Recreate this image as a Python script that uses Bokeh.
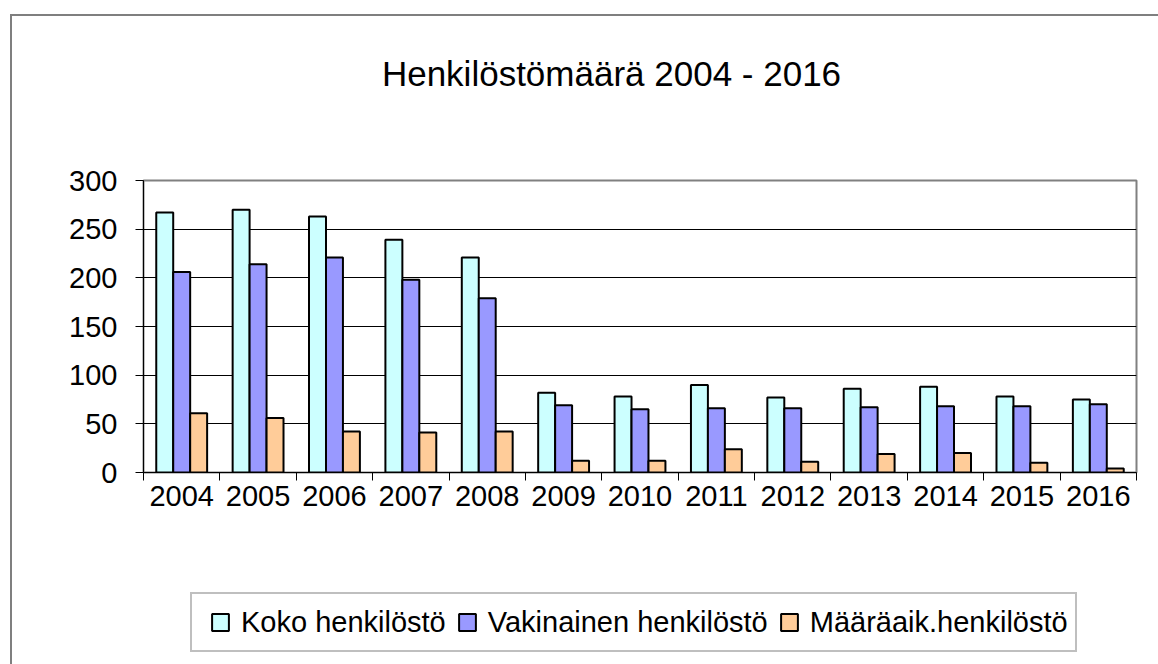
from bokeh.plotting import figure
from bokeh.layouts import column
from bokeh.models import Range1d, FixedTicker, Legend, LegendItem, ColumnDataSource
from bokeh.core.properties import value
from bokeh.transform import dodge
from bokeh.embed import file_html
from bokeh.resources import INLINE

# ---- data ----
years = [2004, 2005, 2006, 2007, 2008, 2009, 2010, 2011, 2012, 2013, 2014, 2015, 2016]
koko = [267, 270, 263, 239, 221, 82, 78, 90, 77, 86, 88, 78, 75]
vakinainen = [206, 214, 221, 198, 179, 69, 65, 66, 66, 67, 68, 68, 70]
maaraaik = [61, 56, 42, 41, 42, 12, 12, 24, 11, 19, 20, 10, 4]
series_names = ["Koko henkilöstö", "Vakinainen henkilöstö", "Määräaik.henkilöstö"]
series_colors = ["#CCFFFF", "#9999FF", "#FFCC99"]
y_ticks = [0, 50, 100, 150, 200, 250, 300]
title_text = "Henkilöstömäärä 2004 - 2016"

FONT = "Liberation Sans"
W = 1146
NAN = float("nan")


def strip(height, xr, yr):
    f = figure(width=W, height=height, x_range=xr, y_range=yr,
               output_backend="svg", toolbar_location=None,
               x_axis_location=None, y_axis_location=None,
               min_border_left=0, min_border_right=0, min_border_top=0, min_border_bottom=0)
    f.outline_line_color = None
    f.grid.grid_line_color = None
    f.background_fill_color = "white"
    f.border_fill_color = "white"
    return f


# ---- title strip ----
p0 = strip(100, Range1d(143, 1136), Range1d(0, 100))
p0.text(x=[611], y=[43], text=[title_text], text_font=value(FONT), text_font_size="35px",
        text_align="center", text_baseline="alphabetic", text_color="black")

# ---- main chart ----
source = ColumnDataSource(data=dict(year=years, koko=koko, vak=vakinainen, maa=maaraaik))

p = figure(
    width=W, height=460,
    x_range=Range1d(years[0] - 0.5, years[-1] + 0.5),
    y_range=Range1d(y_ticks[0], y_ticks[-1]),
    output_backend="svg", toolbar_location=None,
    min_border_left=131, min_border_top=64, min_border_right=22, min_border_bottom=104,
)
p.outline_line_color = "#808080"
p.outline_line_width = 2
p.background_fill_color = "white"
p.border_fill_color = "white"

w = 0.222
cols = ["koko", "vak", "maa"]
offsets = [-w, 0.0, w]
for col, off, color in zip(cols, offsets, series_colors):
    p.vbar(x=dodge("year", off), top=col, width=w, bottom=0, source=source,
           fill_color=color, line_color="black", line_width=2)

p.yaxis.ticker = FixedTicker(ticks=y_ticks)
p.yaxis.major_label_text_font = FONT
p.yaxis.major_label_text_font_size = "29px"
p.yaxis.major_label_text_color = "black"
p.yaxis.major_tick_in = 0
p.yaxis.major_tick_out = 8
p.yaxis.minor_tick_line_color = None
p.yaxis.major_label_standoff = 18
p.yaxis.axis_line_color = "black"
p.yaxis.major_tick_line_color = "black"

p.xaxis.ticker = FixedTicker(ticks=years, minor_ticks=[y - 0.5 for y in years] + [years[-1] + 0.5])
p.xaxis.major_label_overrides = {y: str(y) for y in years}
p.xaxis.major_label_text_font = FONT
p.xaxis.major_label_text_font_size = "29px"
p.xaxis.major_label_text_color = "black"
p.xaxis.major_tick_line_color = None
p.xaxis.major_tick_in = 0
p.xaxis.major_tick_out = 8
p.xaxis.minor_tick_in = 0
p.xaxis.minor_tick_out = 8
p.xaxis.minor_tick_line_color = "black"
p.xaxis.major_label_standoff = 5
p.xaxis.axis_line_color = "black"

p.xgrid.grid_line_color = None
p.ygrid.ticker = FixedTicker(ticks=y_ticks)
p.ygrid.grid_line_color = "black"
p.ygrid.grid_line_width = 1

# ---- legend strip ----
p2 = strip(88, Range1d(0, 1), Range1d(0, 1))
dummies = []
for color in series_colors:
    dummies.append(p2.scatter(x=[NAN], y=[NAN], marker="square", size=16, fill_color=color,
                              line_color="black", line_width=2))

legend = Legend(
    items=[LegendItem(label=n, renderers=[r]) for n, r in zip(series_names, dummies)],
    orientation="horizontal",
    location=(47, 12),
    label_text_font=FONT,
    label_text_font_size="29px",
    label_text_color="black",
    glyph_width=42, glyph_height=42,
    label_standoff=0, spacing=0, padding=7, margin=0,
    border_line_color="#808080", border_line_width=2,
    background_fill_color="white",
)
p2.add_layout(legend)

layout = column(p0, p, p2, spacing=0,
                styles={"border-left": "2px solid #7f7f7f", "border-top": "2px solid #7f7f7f",
                        "margin-left": "10px", "margin-top": "14px"})

open("out.html", "w").write(file_html(layout, INLINE))
